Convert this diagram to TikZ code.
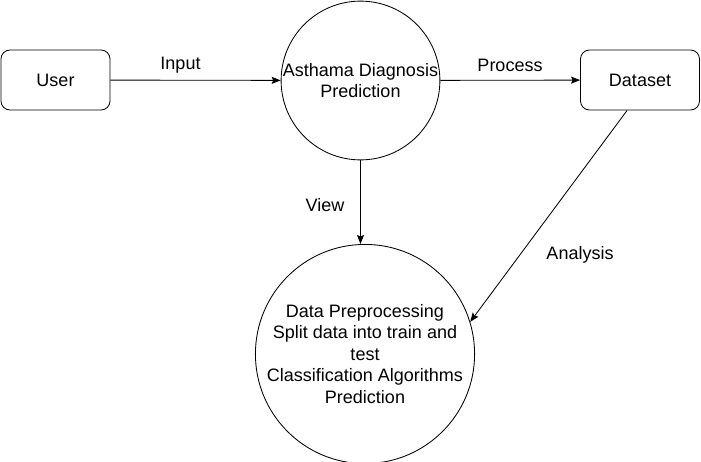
\documentclass[tikz,border=0pt]{standalone}
\usepackage{fontspec}
\setmainfont{Liberation Sans}
\usetikzlibrary{arrows.meta}
\begin{document}
\begin{tikzpicture}[x=1pt,y=-1pt,
  every node/.style={font=\fontsize{18}{21.5}\selectfont},
  box/.style={draw,rounded corners=9pt,line width=0.85pt,inner sep=0pt},
  proc/.style={draw,circle,line width=0.85pt,inner sep=0pt,align=center},
  flow/.style={line width=0.85pt,-{Stealth[length=9pt,width=7pt,inset=1.5pt]}},
  lbl/.style={inner sep=0pt}]
\useasboundingbox (0,0) rectangle (701,461);
\node[box,minimum width=109pt,minimum height=60pt] (user) at (55.5,80) {User};
\node[proc,minimum size=158pt] (c1) at (360.5,80.5) {Asthama Diagnosis\\Prediction};
\node[box,minimum width=119pt,minimum height=60pt] (ds) at (640,80) {Dataset};
\node[proc,minimum size=208pt] (c2) at (365,354) {Data Preprocessing\\Split data into train and\\test\\Classification Algorithms\\Prediction};
\draw[flow] (user) -- (c1);
\draw[flow] (c1) -- (ds);
\draw[flow] (c1.south) -- (c1.south |- c2.north);
\draw[flow] (ds.-113) -- (c2.17);
\node[lbl] (linput) at (180.5,65) {Input};
\node[lbl] (lproc) at (510,65) {Process};
\node[lbl] (lview) at (325,205) {View};
\node[lbl] (lana) at (580,255) {Analysis};
\end{tikzpicture}
\end{document}
